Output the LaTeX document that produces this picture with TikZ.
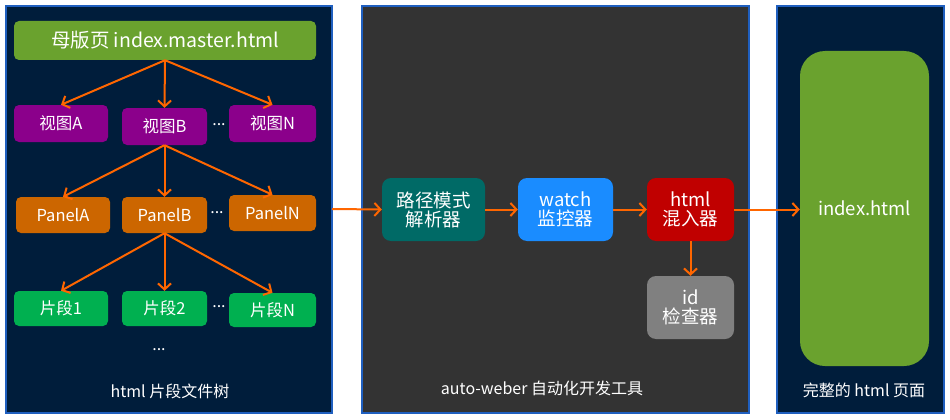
\documentclass[tikz,border=0pt]{standalone}
\usepackage{fontspec}
\setmainfont{Noto Sans CJK SC}
\usetikzlibrary{arrows.meta}
\definecolor{navy}{HTML}{001D3B}
\definecolor{panelborder}{HTML}{1F5FBF}
\definecolor{midgray}{HTML}{333333}
\definecolor{mgreen}{HTML}{6AA22E}
\definecolor{vpurple}{HTML}{8B008B}
\definecolor{porange}{HTML}{CC6600}
\definecolor{fgreen}{HTML}{00B050}
\definecolor{arr}{HTML}{FF6600}
\definecolor{teal2}{HTML}{006A66}
\definecolor{wblue}{HTML}{1A8CFF}
\definecolor{hred}{HTML}{C00000}
\definecolor{igray}{HTML}{808080}
\tikzset{
  panel/.style={draw=panelborder, line width=1.2pt},
  smallbox/.style={rounded corners=5pt, text=white, inner sep=0pt,
     font=\fontsize{16.5}{19}\selectfont},
  bigbox/.style={rounded corners=9pt, text=white, inner sep=0pt, align=center,
     font=\fontsize{18.5}{21}\selectfont},
  lbl/.style={text=white, font=\fontsize{16}{19}\selectfont, inner sep=0pt},
  dots/.style={text=white, font=\fontsize{16}{19}\selectfont, inner sep=1pt},
  conn/.style={draw=arr, line width=2pt, -{Straight Barb[length=6pt,width=13pt,line width=2pt]}},
}
\begin{document}
\begin{tikzpicture}[x=1pt,y=-1pt]
\useasboundingbox (0,0) rectangle (950,420);
\fill[white] (0,0) rectangle (950,420);
% panels
\draw[panel, fill=navy] (6,6) rectangle (332,413);
\draw[panel, fill=midgray] (362,6) rectangle (749,413);
\draw[panel, fill=navy] (777,6) rectangle (944,413);

% left tree
\node[smallbox, fill=mgreen, minimum width=302pt, minimum height=39pt,
  font=\fontsize{19.5}{22}\selectfont] (master) at (165,40.5) {母版页 index.master.html};

\node[smallbox, fill=vpurple, minimum width=94pt, minimum height=37pt] (va) at (61,123.5) {视图A};
\node[smallbox, fill=vpurple, minimum width=85pt, minimum height=37pt] (vb) at (164.5,126.5) {视图B};
\node[smallbox, fill=vpurple, minimum width=87pt, minimum height=37pt] (vn) at (272.5,123.5) {视图N};
\node[dots] (d1) at (219,125) {...};

\node[smallbox, fill=porange, minimum width=94pt, minimum height=36pt] (pa) at (63,215) {PanelA};
\node[smallbox, fill=porange, minimum width=85pt, minimum height=36pt] (pb) at (164.5,215) {PanelB};
\node[smallbox, fill=porange, minimum width=87pt, minimum height=36pt] (pn) at (272.5,213) {PanelN};
\node[dots] (d2) at (217,213) {...};

\node[smallbox, fill=fgreen, minimum width=94pt, minimum height=35pt] (f1) at (61,308.5) {片段1};
\node[smallbox, fill=fgreen, minimum width=85pt, minimum height=35pt] (f2) at (164.5,308.5) {片段2};
\node[smallbox, fill=fgreen, minimum width=87pt, minimum height=34pt] (fn) at (272.5,310) {片段N};
\node[dots] (d3) at (219,307) {...};
\node[dots] (d4) at (159,350) {...};

\node[lbl] (ltitle) at (170,391) {html 片段文件树};

\draw[conn] (master.south) -- (va.north);
\draw[conn] (master.south) -- (vb.north);
\draw[conn] (master.south) -- (vn.north);
\draw[conn] (vb.south) -- (pa.north);
\draw[conn] (vb.south) -- (pb.north);
\draw[conn] (vb.south) -- (pn.north);
\draw[conn] (pb.south) -- (f1.north);
\draw[conn] (pb.south) -- (f2.north);
\draw[conn] (pb.south) -- (fn.north);

% middle
\coordinate (lout) at (332,209);
\node[bigbox, fill=teal2, minimum width=103pt, minimum height=63pt] (parse) at (433.5,209.5) {路径模式\\[-2pt]解析器};
\node[bigbox, fill=wblue, minimum width=95pt, minimum height=63pt] (watch) at (565.5,209.5) {watch\\[-2pt]监控器};
\node[bigbox, fill=hred, minimum width=87pt, minimum height=63pt] (mix) at (690.5,209.5) {html\\[-2pt]混入器};
\node[bigbox, fill=igray, minimum width=87pt, minimum height=63pt] (idc) at (690.5,307.5) {id\\[-2pt]检查器};
\node[lbl] (mtitle) at (542,388) {auto-weber 自动化开发工具};

\draw[conn] (lout) -- (parse.west);
\draw[conn] (parse.east) -- (watch.west);
\draw[conn] (watch.east) -- (mix.west);
\draw[conn] (mix.south) -- (idc.north);

% right
\node[rounded corners=25pt, fill=mgreen, text=white, inner sep=0pt,
  minimum width=129pt, minimum height=315pt, font=\fontsize{18.5}{21}\selectfont] (index) at (864.5,208.5) {index.html};
\node[lbl] (rtitle) at (864,390) {完整的 html 页面};
\draw[conn] (mix.east) -- (index.west |- mix.east);
\end{tikzpicture}
\end{document}
